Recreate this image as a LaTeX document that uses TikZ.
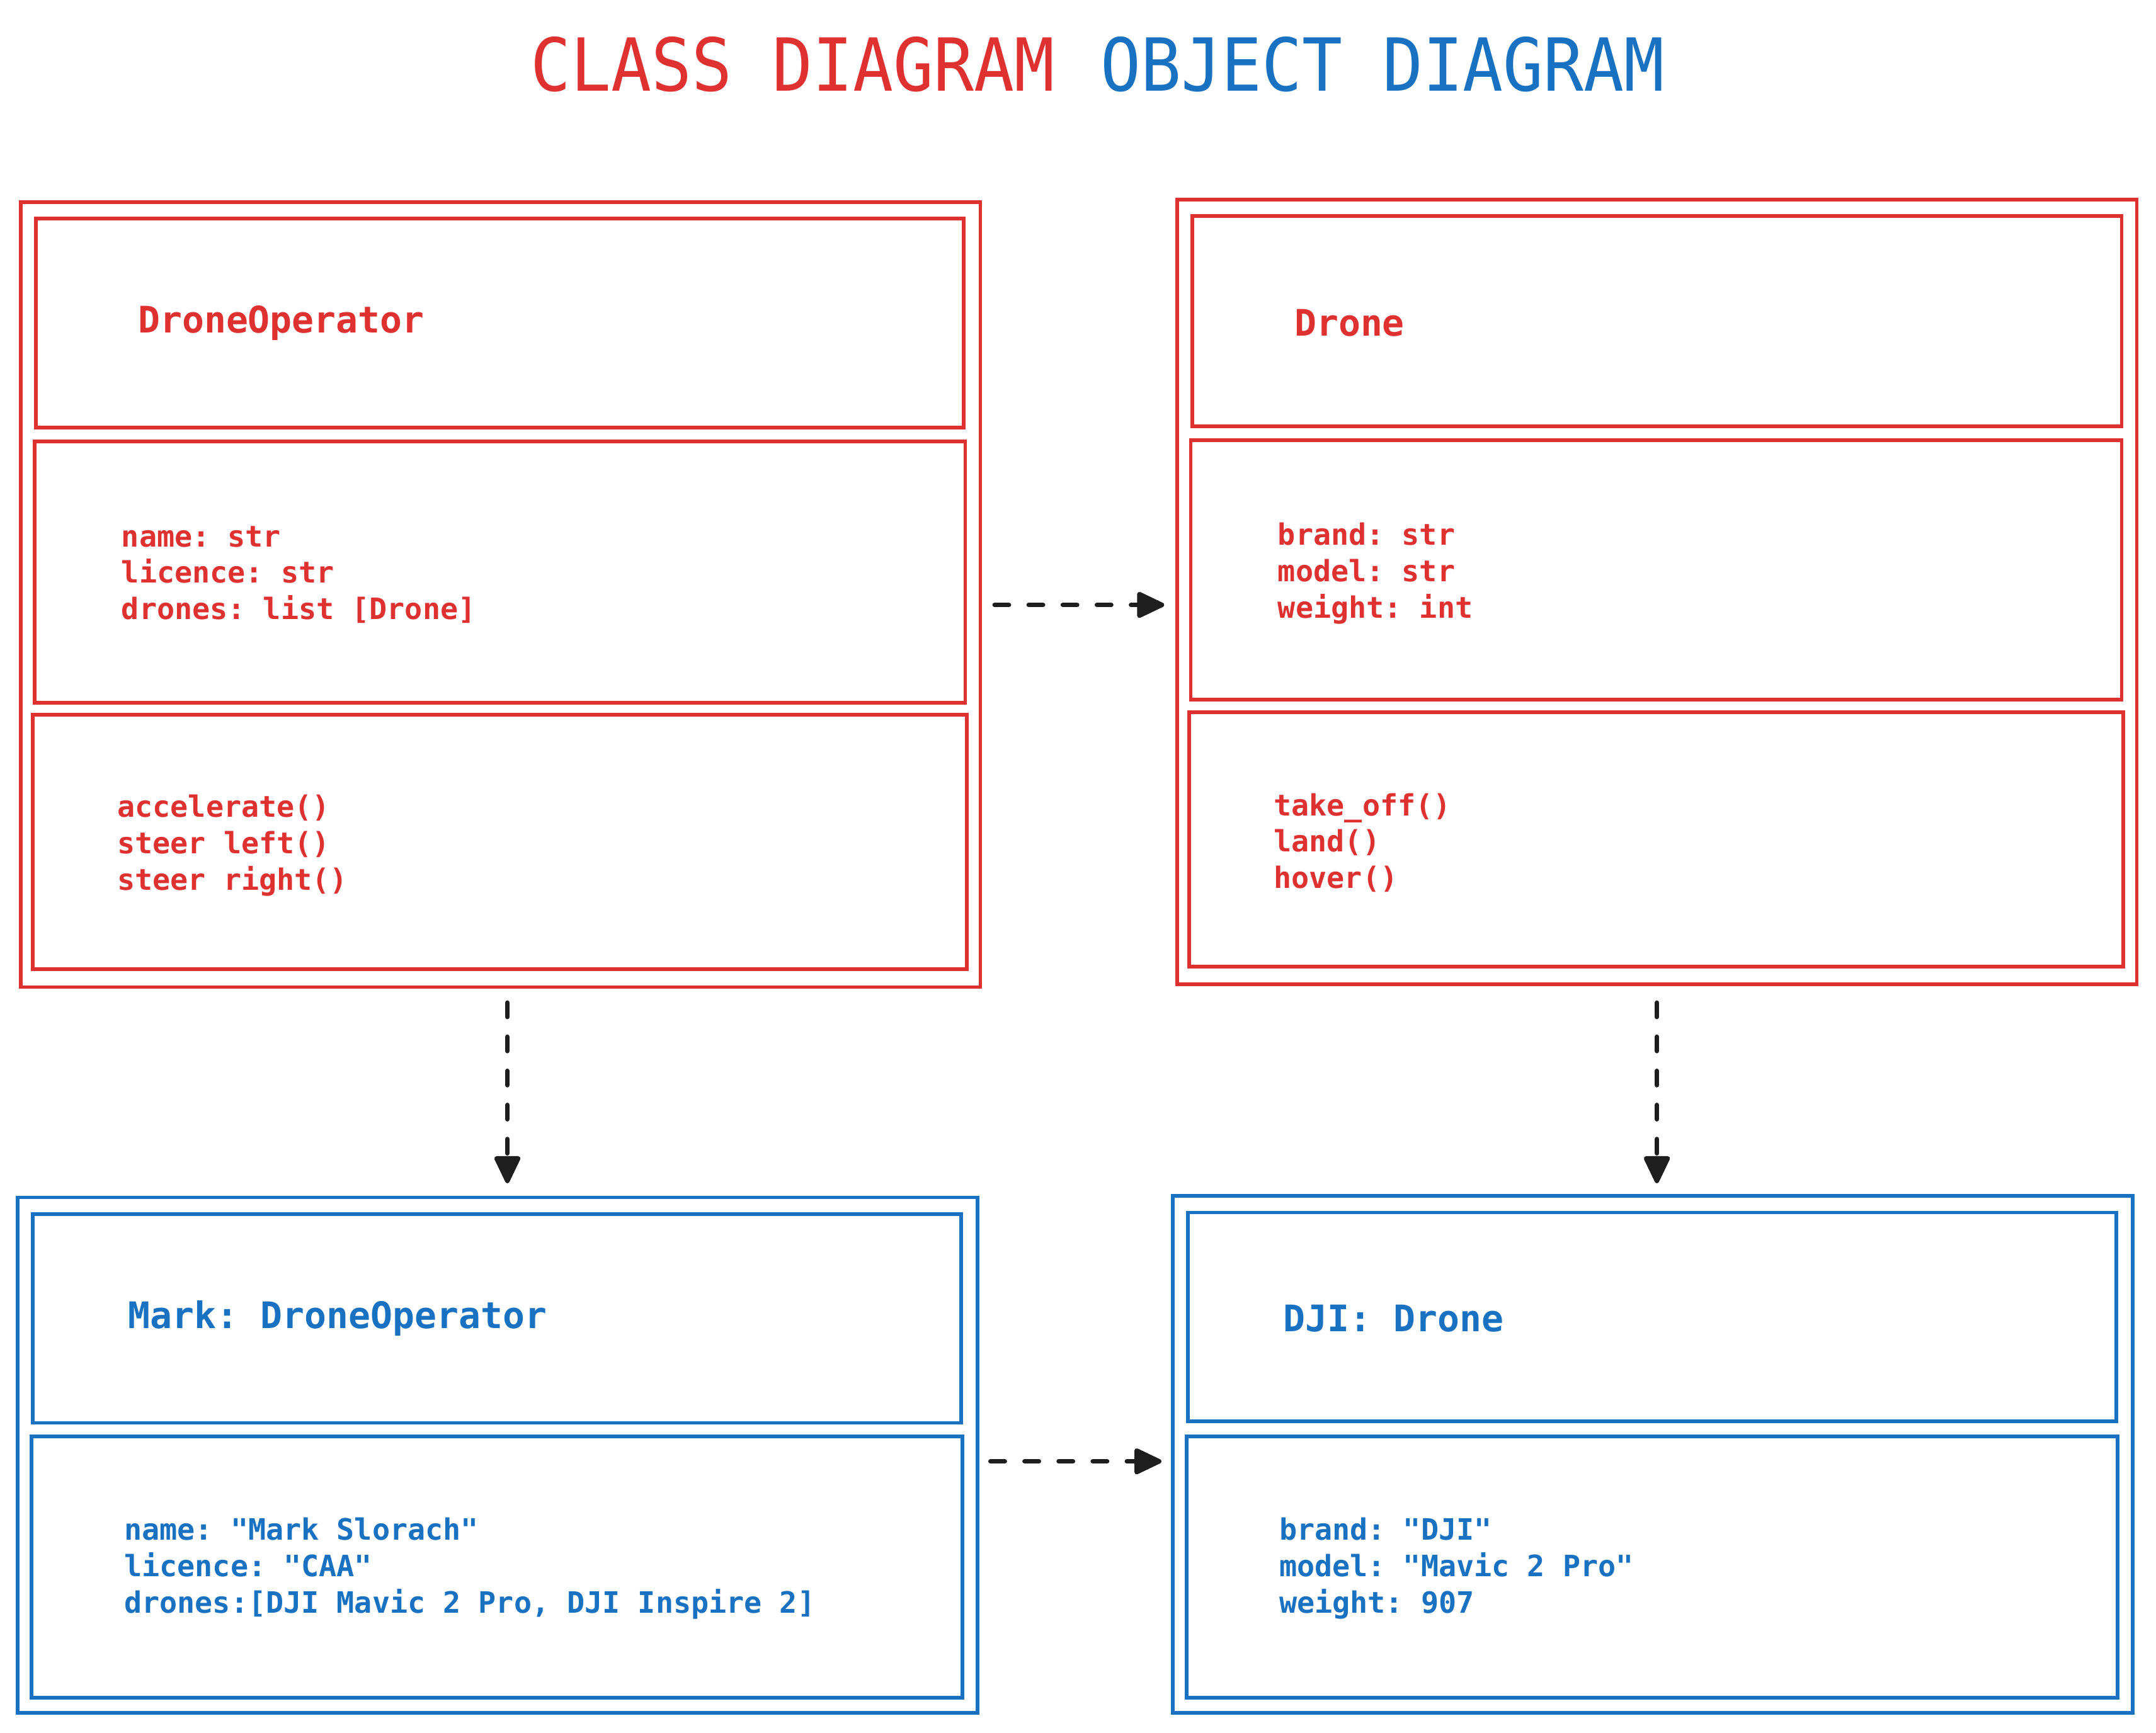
\documentclass[tikz,border=0pt]{standalone}
\usepackage{fontspec}
\setmonofont{DejaVu Sans Mono}
\usetikzlibrary{arrows.meta}
\definecolor{umlred}{HTML}{E03131}
\definecolor{umlblue}{HTML}{1971C2}
\definecolor{arrowblack}{HTML}{1E1E1E}
\begin{document}
\begin{tikzpicture}[x=0.5pt,y=-0.5pt,
  redbox/.style={draw=umlred, line width=1.35pt, inner sep=0pt},
  bluebox/.style={draw=umlblue, line width=1.35pt, inner sep=0pt},
  headtext/.style={anchor=west, inner sep=0pt, font=\ttfamily\bfseries\fontsize{13.3pt}{16pt}\selectfont},
  bodytext/.style={anchor=west, inner sep=0pt, align=left, font=\ttfamily\bfseries\fontsize{10.7pt}{13.25pt}\selectfont},
  titletext/.style={anchor=base, inner sep=0pt, font=\ttfamily\fontsize{26.6pt}{30pt}\selectfont},
  deparrow/.style={draw=arrowblack, line width=1.65pt, dash pattern=on 5.2pt off 7.2pt, line cap=round,
    -{Triangle[length=11pt,width=10pt,round]}}
]
\useasboundingbox (0,0) rectangle (1568,1260.2);

% titles
\node[titletext, text=umlred] (t1) at (576.5,66) {\scalebox{0.915}[1]{CLASS DIAGRAM}};
\node[titletext, text=umlblue] (t2) at (1005.5,66) {\scalebox{0.915}[1]{OBJECT DIAGRAM}};

% DroneOperator class
\node[redbox, minimum width=349pt, minimum height=285.5pt] (opA) at (364,432.5) {};
\node[redbox, minimum width=337.5pt, minimum height=76pt] (opA1) at (363.5,235) {};
\node[redbox, minimum width=338.5pt, minimum height=95pt] (opA2) at (363.5,416) {};
\node[redbox, minimum width=339.5pt, minimum height=92.5pt] (opA3) at (363.5,612.5) {};
\node[headtext, text=umlred] (opAh) at (100,235) {DroneOperator};
\node[bodytext, text=umlred] (opAa) at (88,418) {name: str\\licence: str\\drones: list [Drone]};
\node[bodytext, text=umlred] (opAm) at (85,615) {accelerate()\\steer left()\\steer right()};

% Drone class
\node[redbox, minimum width=349pt, minimum height=285.5pt] (clsB) at (1205,430.5) {};
\node[redbox, minimum width=338pt, minimum height=76.5pt] (clsB1) at (1205,233.5) {};
\node[redbox, minimum width=338.5pt, minimum height=94.5pt] (clsB2) at (1204.5,414.5) {};
\node[redbox, minimum width=339.5pt, minimum height=92.5pt] (clsB3) at (1204.5,610.5) {};
\node[headtext, text=umlred] (clsBh) at (941,235) {Drone};
\node[bodytext, text=umlred] (clsBa) at (929,417) {brand: str\\model: str\\weight: int};
\node[bodytext, text=umlred] (clsBm) at (926,613) {take\_off()\\land()\\hover()};

% Mark object
\node[bluebox, minimum width=349pt, minimum height=187.5pt] (objA) at (362,1058.5) {};
\node[bluebox, minimum width=337.5pt, minimum height=76pt] (objA1) at (361.5,959) {};
\node[bluebox, minimum width=338.5pt, minimum height=95pt] (objA2) at (361.5,1140) {};
\node[headtext, text=umlblue] (objAh) at (93,959) {Mark: DroneOperator};
\node[bodytext, text=umlblue] (objAa) at (90,1141) {name: "Mark Slorach"\\licence: "CAA"\\drones:[DJI Mavic 2 Pro, DJI Inspire 2]};

% DJI object
\node[bluebox, minimum width=349pt, minimum height=188pt] (objB) at (1202,1058) {};
\node[bluebox, minimum width=337.5pt, minimum height=76pt] (objB1) at (1201.5,958) {};
\node[bluebox, minimum width=338.5pt, minimum height=95pt] (objB2) at (1201.5,1140) {};
\node[headtext, text=umlblue] (objBh) at (933,959) {DJI: Drone};
\node[bodytext, text=umlblue] (objBa) at (930,1141) {brand: "DJI"\\model: "Mavic 2 Pro"\\weight: 907};

% connectors
\draw[deparrow, shorten <=4.5pt, shorten >=4pt] ([yshift=-3.75pt]opA.east) -- ([yshift=-3.75pt]opA.east -| clsB.west);
\draw[deparrow, shorten <=5pt, shorten >=4.5pt] ([xshift=2.5pt]opA.south) -- ([xshift=2.5pt]opA.south |- objA.north);
\draw[deparrow, shorten <=6pt, shorten >=4pt] (clsB.south) -- (clsB.south |- objB.north);
\draw[deparrow, shorten <=4pt, shorten >=3.5pt] ([yshift=-2.25pt]objA.east) -- ([yshift=-2.25pt]objA.east -| objB.west);
\end{tikzpicture}
\end{document}
